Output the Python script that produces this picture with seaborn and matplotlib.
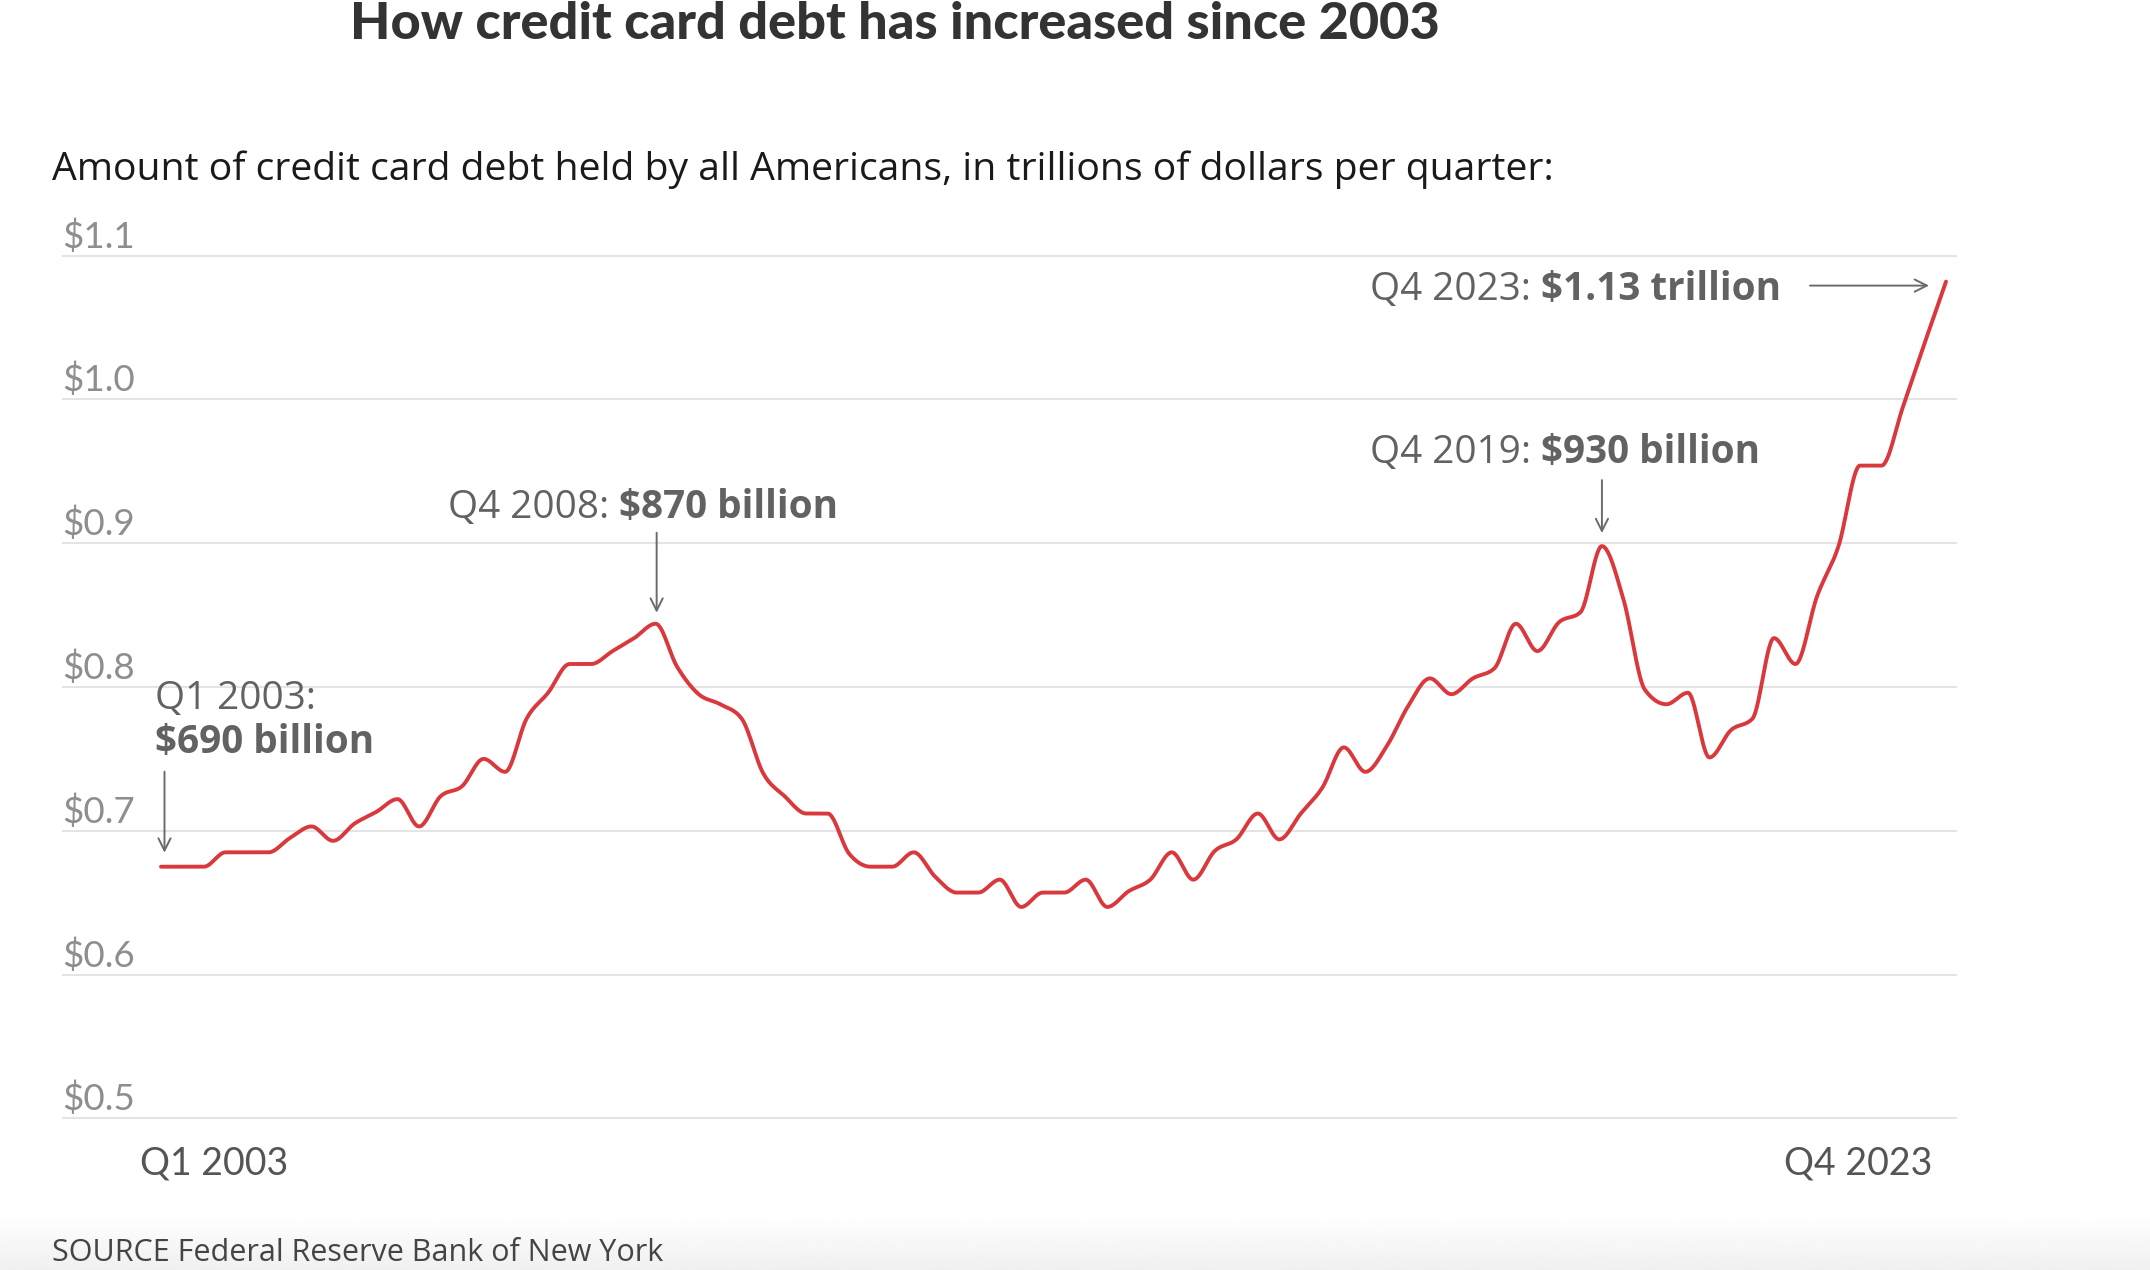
import numpy as np
import pandas as pd
import matplotlib
matplotlib.use('Agg')
import matplotlib.pyplot as plt
import seaborn as sns
from matplotlib.text import OffsetFrom


# credit card debt per quarter, trillions of dollars
debt = [0.675, 0.675, 0.675, 0.685, 0.685, 0.685, 0.695, 0.703,
        0.693, 0.705, 0.713, 0.722, 0.703, 0.724, 0.731, 0.750,
        0.741, 0.778, 0.796, 0.816, 0.816, 0.825, 0.834, 0.844,
        0.814, 0.795, 0.788, 0.778, 0.740, 0.724, 0.712, 0.712,
        0.684, 0.675, 0.675, 0.685, 0.668, 0.657, 0.657, 0.666,
        0.647, 0.657, 0.657, 0.666, 0.647, 0.658, 0.666, 0.685,
        0.666, 0.686, 0.694, 0.712, 0.694, 0.712, 0.730, 0.758,
        0.741, 0.759, 0.787, 0.806, 0.795, 0.806, 0.813, 0.844,
        0.825, 0.845, 0.852, 0.898, 0.861, 0.798, 0.788, 0.796,
        0.751, 0.770, 0.778, 0.834, 0.816, 0.863, 0.898, 0.954,
        0.954, 0.995, 1.039, 1.082]
quarters = [f"Q{q} {yr}" for yr in range(2003, 2024) for q in range(1, 5)]

y_ticks = [0.5, 0.6, 0.7, 0.8, 0.9, 1.0, 1.1]
y_labels = ["$0.5", "$0.6", "$0.7", "$0.8", "$0.9", "$1.0", "$1.1"]
x_labels = ["Q1 2003", "Q4 2023"]

# callouts: (quarter, normal part, bold part)
callouts = [("Q4 2008", "Q4 2008:", "$870 billion"),
            ("Q4 2019", "Q4 2019:", "$930 billion"),
            ("Q4 2023", "Q4 2023:", "$1.13 trillion")]

title = "How credit card debt has increased since 2003"
subtitle = "Amount of credit card debt held by all Americans, in trillions of dollars per quarter:"
source = "SOURCE Federal Reserve Bank of New York"

RED = '#d9383c'
ARROW = '#6b6b6b'
NOTE = '#626262'


def monotone_x(x, y, steps=30):
    # same smoothing as d3.curveMonotoneX
    x = np.asarray(x, float)
    y = np.asarray(y, float)
    h = np.diff(x)
    s = np.diff(y) / h
    t = np.zeros_like(y)
    sgn = lambda v: -1.0 if v < 0 else 1.0
    for k in range(1, len(y) - 1):
        p = (s[k-1] * h[k] + s[k] * h[k-1]) / (h[k-1] + h[k])
        t[k] = (sgn(s[k-1]) + sgn(s[k])) * min(abs(s[k-1]), abs(s[k]), 0.5 * abs(p))
    t[0] = (3 * s[0] - t[1]) / 2
    t[-1] = (3 * s[-1] - t[-2]) / 2
    u = np.linspace(0, 1, steps, endpoint=False)
    h00 = 2*u**3 - 3*u**2 + 1
    h10 = u**3 - 2*u**2 + u
    h01 = -2*u**3 + 3*u**2
    h11 = u**3 - u**2
    xs, ys = [], []
    for k in range(len(y) - 1):
        xs.append(x[k] + u * h[k])
        ys.append(h00*y[k] + h10*h[k]*t[k] + h01*y[k+1] + h11*h[k]*t[k+1])
    xs.append([x[-1]])
    ys.append([y[-1]])
    return np.concatenate(xs), np.concatenate(ys)


sns.set_theme(style='white')
plt.rcParams['font.family'] = ['Lato', 'DejaVu Sans']
WIDE_FONT = ['Open Sans', 'DejaVu Sans']

W, H = 2150, 1270
fig = plt.figure(figsize=(W / 100, H / 100), dpi=100)
ax = fig.add_axes([62 / W, 1 - 1119 / H, 1895 / W, 864 / H])

idx = np.arange(len(debt))
cx, cy = monotone_x(idx, debt)
curve = pd.DataFrame({'quarter': cx, 'debt': cy})
sns.lineplot(data=curve, x='quarter', y='debt', ax=ax, color=RED, lw=2.8,
             estimator=None, sort=False, zorder=3)

ax.set_xlim(-4.603, 83.51)
ax.set_ylim(0.4995, 1.1005)
ax.set_yticks(y_ticks)
ax.set_yticklabels([])
ax.set_xticks([])
ax.tick_params(length=0)
ax.grid(axis='y', color='#e4e4e4', lw=1.5)
ax.set_axisbelow(True)
ax.set_xlabel('')
ax.set_ylabel('')
sns.despine(ax=ax, left=True, bottom=True)

for v, lab in zip(y_ticks, y_labels):
    ax.annotate(lab, xy=(0, v), xycoords=('axes fraction', 'data'),
                xytext=(0, 8), textcoords='offset pixels', ha='left',
                va='baseline', fontsize=26.5, color='#8e8e8e')

ax.annotate(x_labels[0], xy=(0, y_ticks[0]), xytext=(-21, -56),
            textcoords='offset pixels', ha='left', va='baseline',
            fontsize=27, color='#555555')
ax.annotate(x_labels[1], xy=(len(debt) - 1, y_ticks[0]), xytext=(-14, -56),
            textcoords='offset pixels', ha='right', va='baseline',
            fontsize=27, color='#555555')

renderer = fig.canvas.get_renderer()


def note(xq, yv, dx, dy, text, bold=False):
    return ax.annotate(text, xy=(xq, yv), xytext=(dx, dy),
                       textcoords='offset pixels', ha='left', va='baseline',
                       fontsize=27.8, color=NOTE, family=WIDE_FONT,
                       weight='bold' if bold else 'normal')


def note_pair(xq, yv, dx, dy, normal, strong):
    t = note(xq, yv, dx, dy, normal)
    w = t.get_window_extent(renderer).width
    note(xq, yv, dx + w + 10, dy, strong, bold=True)


def arrow(xq, yv, tip, tail):
    ref = OffsetFrom(ax.transData, (xq, yv), unit='pixels')
    ax.annotate('', xy=tip, xycoords=ref, xytext=tail, textcoords=ref,
                arrowprops=dict(arrowstyle='->,head_length=0.4,head_width=0.2',
                                mutation_scale=22, color=ARROW, lw=1.4,
                                shrinkA=0, shrinkB=0))


# first quarter
i0 = 0
note(i0, debt[i0], -6, 158, "Q1 2003:")
note(i0, debt[i0], -6, 114, "$690 billion", bold=True)
arrow(i0, debt[i0], (3.5, 14), (3.5, 95))

# offsets of text (dx, dy) and arrow (tip, tail) for each callout
text_off = [(-208, 106), (-232, 83), (-576, -18)]
arrow_off = [((1, 11), (1, 91)), ((0, 13), (0, 66)), ((-17, -4), (-136, -4))]
for (q, normal, strong), (dx, dy), (tip, tail) in zip(callouts, text_off, arrow_off):
    i = quarters.index(q)
    note_pair(i, debt[i], dx, dy, normal, strong)
    arrow(i, debt[i], tip, tail)

fig.text(895 / W, 1 - 39 / H, title, ha='center', va='baseline',
         fontsize=37.6, weight='black', color='#333333')
fig.text(52 / W, 1 - 180 / H, subtitle, ha='left', va='baseline',
         fontsize=28.2, color='#1a1a1a', family=WIDE_FONT)

# soft grey band at the foot
gax = fig.add_axes([0, 0, 1, 55 / H], zorder=-1)
gax.imshow(np.linspace(1.0, 0.94, 60)[:, None], cmap='gray', vmin=0, vmax=1,
           aspect='auto')
gax.axis('off')
fig.text(52 / W, 1 - 1261 / H, source, ha='left', va='baseline',
         fontsize=22, color='#444444', family=WIDE_FONT)

fig.savefig('out.png', dpi=100, facecolor='white')
